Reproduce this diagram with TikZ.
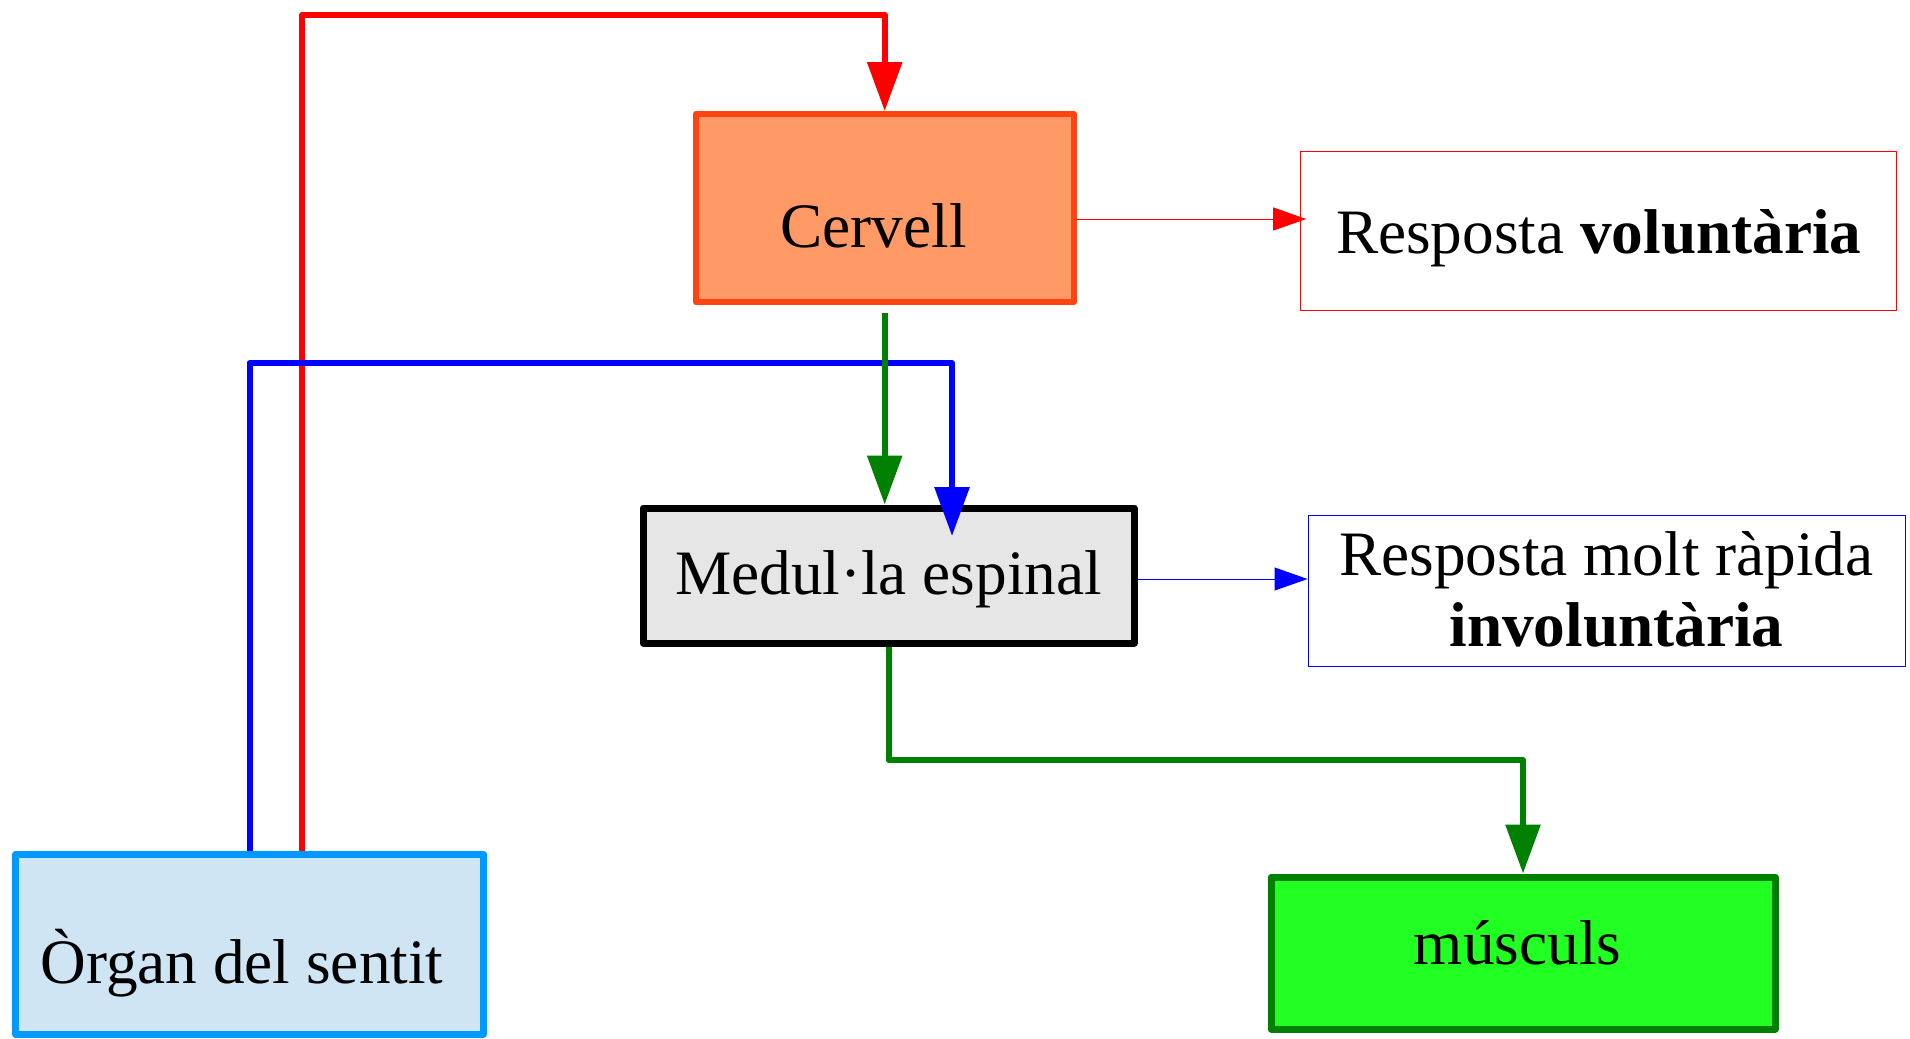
\documentclass[tikz,border=0pt]{standalone}
\usepackage{fontspec}
\setmainfont{Liberation Serif}
\usetikzlibrary{arrows.meta}

\definecolor{cervfill}{HTML}{FF9966}
\definecolor{cervline}{HTML}{FF4411}
\definecolor{organfill}{HTML}{CFE5F3}
\definecolor{organline}{HTML}{0099FF}
\definecolor{medulfill}{HTML}{E6E6E6}
\definecolor{muscfill}{HTML}{22FF22}
\definecolor{nervgreen}{HTML}{008000}

\begin{document}
\begin{tikzpicture}[x=0.1mm, y=-0.1mm, line join=round,
  font=\fontsize{18}{20}\selectfont,
  box/.style={draw, line width=0.7mm, inner sep=0pt},
  resp/.style={draw, line width=0.1mm, inner sep=0pt},
  fibre/.style={->, line width=0.6mm, >={Triangle[length=4.9mm,width=3.4mm]}},
  thinfibre/.style={->, line width=0.1mm, >={Triangle[length=3.3mm,width=2.3mm]}}]
\useasboundingbox (0,0) rectangle (1910,1038);
\node[box, draw=cervline, fill=cervfill, line width=0.6mm, minimum width=37.8mm, minimum height=18.8mm] (cervell) at (884.7,208) {\raisebox{-3.9mm}[0pt][0pt]{Cervell\hspace*{2.2mm}}};
\node[box, draw=black, fill=medulfill, minimum width=49.1mm, minimum height=13.5mm] (medul) at (888.5,575.5) {\raisebox{-1.85mm}[0pt][0pt]{Medul·la espinal}};
\node[box, draw=organline, fill=organfill, minimum width=46.8mm, minimum height=18mm] (organ) at (249.5,944) {\raisebox{-3.9mm}[0pt][0pt]{Òrgan del sentit\hspace*{1.5mm}}};
\node[box, draw=nervgreen, fill=muscfill, minimum width=50.4mm, minimum height=15.2mm] (musculs) at (1523,953) {\raisebox{-1.1mm}[0pt][0pt]{músculs\hspace*{1.1mm}}};
\node[resp, draw=red, minimum width=59.6mm, minimum height=15.9mm] (respvol) at (1598.7,230.5) {\raisebox{-2.25mm}[0pt][0pt]{Resposta \textbf{voluntària}}};
\node[resp, draw=blue, minimum width=59.7mm, minimum height=15.1mm] (respinv) at (1606.5,590.5) {\raisebox{-5.55mm}[0pt][0pt]{\begin{tabular}[b]{@{}c@{}}Resposta molt ràpida\\\hspace*{2mm}\textbf{involuntària}\end{tabular}}};
\coordinate (redbend) at (302,15);
\coordinate (bluebend) at (952,363);
\coordinate (bluetip) at (952,536);
\coordinate (greenbend) at (1523,760);
\draw[fibre, red] (organ.north -| redbend) -- (redbend) -| (cervell.north);
\draw[fibre, blue] (organ.north) |- (bluebend) -- (bluetip);
\draw[fibre, nervgreen] ([yshift=-0.8mm]cervell.south) -- (medul.north -| cervell.south);
\draw[fibre, nervgreen] (medul.south) |- (greenbend) -- (musculs.north);
\draw[thinfibre, red, shorten >=-0.6mm] ([yshift=-1.1mm]cervell.east) -- ([yshift=-1.1mm]cervell.east -| respvol.west);
\draw[thinfibre, blue] ([yshift=-0.35mm]medul.east) -- ([yshift=-0.35mm]medul.east -| respinv.west);
\end{tikzpicture}
\end{document}
